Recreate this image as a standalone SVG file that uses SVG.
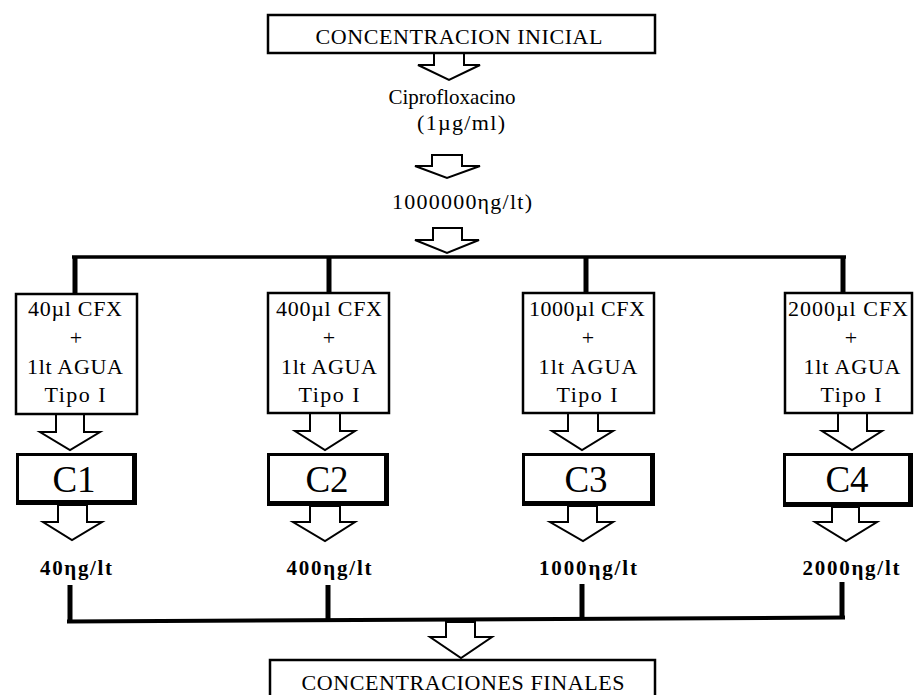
<svg xmlns="http://www.w3.org/2000/svg" width="914" height="695" viewBox="0 0 914 695">
<style>
.box{fill:#fff;stroke:#000;stroke-width:2.5}
.arr{fill:#fff;stroke:#000;stroke-width:2;stroke-linejoin:miter}
.t{font-family:"Liberation Serif","Times New Roman",serif;fill:#000;text-anchor:middle}
.s{font-size:22px}
.c{font-size:37px}
.b{font-size:21px;font-weight:bold}
.ln{stroke:#000;fill:none}
</style>
<rect width="914" height="695" fill="#fff"/>
<g id="connectors">
<line class="ln" x1="72" y1="257" x2="846" y2="257" stroke-width="3.5"/>
<line class="ln" x1="75" y1="256" x2="75" y2="294" stroke-width="5"/>
<line class="ln" x1="329" y1="256" x2="329" y2="293" stroke-width="5"/>
<line class="ln" x1="586" y1="256" x2="586" y2="293" stroke-width="5"/>
<line class="ln" x1="843" y1="256" x2="843" y2="293" stroke-width="5"/>
<line class="ln" x1="70" y1="585" x2="70" y2="622" stroke-width="5"/>
<line class="ln" x1="328" y1="585" x2="328" y2="621" stroke-width="5"/>
<line class="ln" x1="582" y1="584" x2="582" y2="619" stroke-width="5"/>
<line class="ln" x1="842" y1="582" x2="842" y2="619" stroke-width="5"/>
<line class="ln" x1="67" y1="621.5" x2="845" y2="617.5" stroke-width="4"/>
<polygon class="arr" points="434,53 464,53 464,65 480,65 449,80 418,65 434,65"/>
<polygon class="arr" points="432,155 462,155 462,166 480,166 447,178 415,166 432,166"/>
<polygon class="arr" points="433,228 462,228 462,240 479,240 447,253 415,240 433,240"/>
<polygon class="arr" points="56,414 84,414 84,432 100,432 70,450 40,432 56,432"/>
<polygon class="arr" points="310,413 340,413 340,431 355,431 325,450 295,431 310,431"/>
<polygon class="arr" points="568,413 598,413 598,431 613,431 582,450 552,431 568,431"/>
<polygon class="arr" points="838,413 867,413 867,431 882,431 852,450 822,431 838,431"/>
<polygon class="arr" points="58,505 87,505 87,522 102,522 72,540 43,522 58,522"/>
<polygon class="arr" points="310,506 340,506 340,522 355,522 325,541 293,522 310,522"/>
<polygon class="arr" points="568,506 597,506 597,522 613,522 583,541 550,522 568,522"/>
<polygon class="arr" points="832,507 859,507 859,522 877,522 846,541 815,522 832,522"/>
<polygon class="arr" points="446,622 475,622 475,637 492,637 461,658 430,637 446,637"/>
</g>
<g id="inicial">
<rect class="box" x="268" y="15" width="387" height="38" stroke-width="3"/>
<text class="t s" x="459" y="44" textLength="287" lengthAdjust="spacing">CONCENTRACION INICIAL</text>
</g>
<g id="cipro">
<text class="t" style="font-size:21px" x="452" y="104">Ciprofloxacino</text>
<text class="t" style="font-size:22px" x="461" y="130" textLength="88">(1µg/ml)</text>
</g>
<g id="ng">
<text class="t s" x="462" y="209" textLength="140">1000000ηg/lt)</text>
</g>
<g id="box1">
<rect class="box" x="16" y="294" width="121" height="120"/>
<text class="t s" x="75" y="316" textLength="94">40µl CFX</text>
<text class="t s" x="76" y="345">+</text>
<text class="t s" x="75" y="374" textLength="96">1lt AGUA</text>
<text class="t s" x="75" y="402" textLength="61">Tipo I</text>
</g>
<g id="box2">
<rect class="box" x="268" y="293" width="121" height="120"/>
<text class="t s" x="329" y="316" textLength="106">400µl CFX</text>
<text class="t s" x="329" y="345">+</text>
<text class="t s" x="329" y="374" textLength="96">1lt AGUA</text>
<text class="t s" x="329" y="402" textLength="61">Tipo I</text>
</g>
<g id="box3">
<rect class="box" x="523" y="293" width="131" height="120"/>
<text class="t s" x="587" y="316" textLength="116">1000µl CFX</text>
<text class="t s" x="588" y="345">+</text>
<text class="t s" x="588" y="374" textLength="99">1lt AGUA</text>
<text class="t s" x="587" y="402" textLength="61">Tipo I</text>
</g>
<g id="box4">
<rect class="box" x="785" y="293" width="127" height="120"/>
<text class="t s" x="848" y="316" textLength="120">2000µl CFX</text>
<text class="t s" x="851" y="345">+</text>
<text class="t s" x="852" y="374" textLength="97">1lt AGUA</text>
<text class="t s" x="851" y="402" textLength="61">Tipo I</text>
</g>
<g id="c1">
<rect x="16" y="453" width="121" height="52" fill="#000"/>
<rect x="19" y="456" width="113" height="44" fill="#fff"/>
<text class="t c" x="74" y="492">C1</text>
</g>
<g id="c2">
<rect x="267" y="453" width="122" height="53" fill="#000"/>
<rect x="270" y="456" width="114" height="45" fill="#fff"/>
<text class="t c" x="327" y="492">C2</text>
</g>
<g id="c3">
<rect x="522" y="453" width="133" height="53" fill="#000"/>
<rect x="525" y="456" width="125" height="45" fill="#fff"/>
<text class="t c" x="586" y="492">C3</text>
</g>
<g id="c4">
<rect x="783" y="453" width="130" height="54" fill="#000"/>
<rect x="786" y="456" width="122" height="46" fill="#fff"/>
<text class="t c" x="847" y="492">C4</text>
</g>
<g id="r1"><text class="t b" x="76" y="575" textLength="72">40ηg/lt</text></g>
<g id="r2"><text class="t b" x="329" y="575" textLength="85">400ηg/lt</text></g>
<g id="r3"><text class="t b" x="588" y="575" textLength="98">1000ηg/lt</text></g>
<g id="r4"><text class="t b" x="851" y="575" textLength="97">2000ηg/lt</text></g>
<g id="finales">
<rect class="box" x="270" y="660" width="385" height="45"/>
<text class="t s" x="463" y="690" textLength="323">CONCENTRACIONES FINALES</text>
</g>
</svg>
